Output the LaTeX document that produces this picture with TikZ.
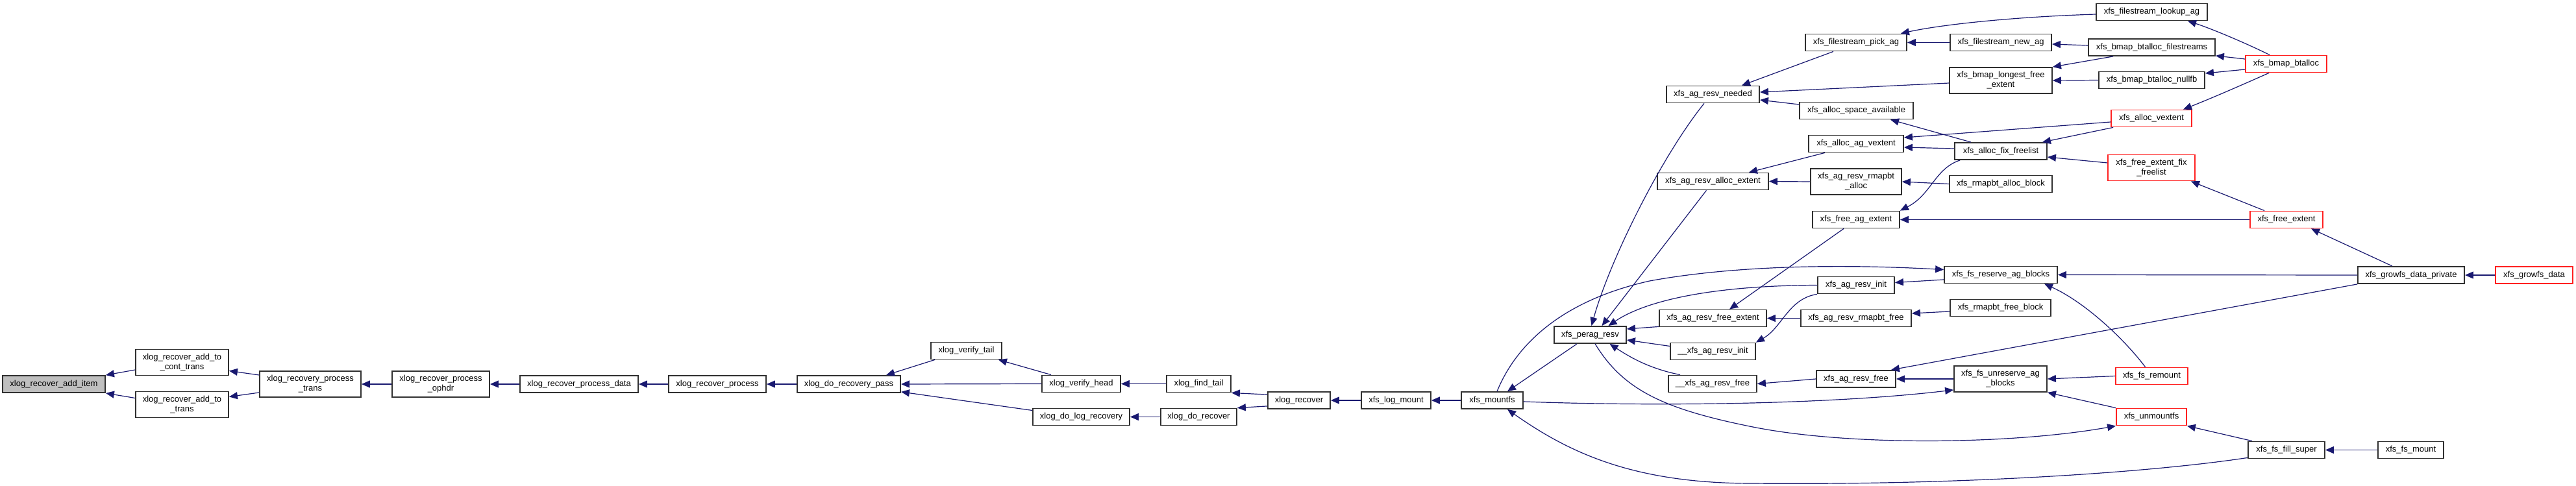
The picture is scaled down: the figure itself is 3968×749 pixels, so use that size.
\documentclass[tikz,border=0pt]{standalone}
\usepackage{fontspec}
\setmainfont{Liberation Sans}
\usetikzlibrary{arrows.meta}
\definecolor{edgeblue}{HTML}{191970}
\definecolor{rootgray}{HTML}{BFBFBF}
\definecolor{boxred}{HTML}{FF2020}
\definecolor{boxgray}{HTML}{303030}
\begin{document}
\begin{tikzpicture}[x=0.5pt,y=-0.5pt,
  box/.style={draw=boxgray, line width=0.9pt, fill=white, inner sep=0pt, align=center,
              font=\fontsize{6.5}{7.5}\selectfont, minimum height=13pt},
  redbox/.style={box, draw=boxred},
  rootbox/.style={box, fill=rootgray},
  wd/.style={minimum width=#1*0.5pt},
  tall/.style={minimum height=20pt},
  cl/.style={draw=edgeblue, line width=0.6pt, {Triangle[length=6.5pt,width=5.5pt]}-}
]
\useasboundingbox (0,0) rectangle (3968,749);

% nodes
\node[rootbox,wd=158] (n1) at (83,592) {xlog\_recover\_add\_item};
\node[box,wd=143,tall] (n2) at (280.5,558.5) {xlog\_recover\_add\_to\\\_cont\_trans};
\node[box,wd=143,tall] (n3) at (280.5,623.5) {xlog\_recover\_add\_to\\\_trans};
\node[box,wd=156,tall] (n4) at (478,592) {xlog\_recovery\_process\\\_trans};
\node[box,wd=150,tall] (n5) at (679,592) {xlog\_recover\_process\\\_ophdr};
\node[box,wd=182] (n6) at (892,592) {xlog\_recover\_process\_data};
\node[box,wd=150] (n7) at (1105,592) {xlog\_recover\_process};
\node[box,wd=159] (n8) at (1307.5,592) {xlog\_do\_recovery\_pass};
\node[box,wd=109] (n9) at (1488.5,540.5) {xlog\_verify\_tail};
\node[box,wd=121] (n10) at (1665.5,591.5) {xlog\_verify\_head};
\node[box,wd=99] (n11) at (1846.5,591.5) {xlog\_find\_tail};
\node[box,wd=149] (n12) at (1665.5,642.5) {xlog\_do\_log\_recovery};
\node[box,wd=117] (n13) at (1846.5,642.5) {xlog\_do\_recover};
\node[box,wd=96] (n14) at (2001,617) {xlog\_recover};
\node[box,wd=107] (n15) at (2150.5,617) {xfs\_log\_mount};
\node[box,wd=95] (n16) at (2298.5,617) {xfs\_mountfs};
\node[box,wd=111] (n17) at (2449.5,516) {xfs\_perag\_resv};
\node[box,wd=143] (n18) at (2638.5,145.5) {xfs\_ag\_resv\_needed};
\node[box,wd=171] (n19) at (2638.5,279.5) {xfs\_ag\_resv\_alloc\_extent};
\node[box,wd=165] (n20) at (2638.5,490.5) {xfs\_ag\_resv\_free\_extent};
\node[box,wd=131] (n21) at (2638.5,541.5) {\_\_xfs\_ag\_resv\_init};
\node[box,wd=136] (n22) at (2638,591.5) {\_\_xfs\_ag\_resv\_free};
\node[box,wd=156] (n23) at (2859,65.5) {xfs\_filestream\_pick\_ag};
\node[box,wd=175] (n24) at (2859.5,170.5) {xfs\_alloc\_space\_available};
\node[box,wd=146] (n25) at (2859,221.5) {xfs\_alloc\_ag\_vextent};
\node[box,wd=140,tall] (n26) at (2859,280) {xfs\_ag\_resv\_rmapbt\\\_alloc};
\node[box,wd=134] (n27) at (2859,338.5) {xfs\_free\_ag\_extent};
\node[box,wd=118] (n28) at (2859,439.5) {xfs\_ag\_resv\_init};
\node[box,wd=170] (n29) at (2859,490.5) {xfs\_ag\_resv\_rmapbt\_free};
\node[box,wd=122] (n30) at (2859,584) {xfs\_ag\_resv\_free};
\node[box,wd=156] (n31) at (3082,65.5) {xfs\_filestream\_new\_ag};
\node[box,wd=158,tall] (n32) at (3082,124) {xfs\_bmap\_longest\_free\\\_extent};
\node[box,wd=142] (n33) at (3082,233) {xfs\_alloc\_fix\_freelist};
\node[box,wd=158] (n34) at (3082,283.5) {xfs\_rmapbt\_alloc\_block};
\node[box,wd=174] (n35) at (3082,423.5) {xfs\_fs\_reserve\_ag\_blocks};
\node[box,wd=155] (n36) at (3081.5,474.5) {xfs\_rmapbt\_free\_block};
\node[box,wd=143,tall] (n37) at (3081.5,584) {xfs\_fs\_unreserve\_ag\\\_blocks};
\node[box,wd=171] (n38) at (3314.5,18.5) {xfs\_filestream\_lookup\_ag};
\node[box,wd=195] (n39) at (3314.5,73) {xfs\_bmap\_btalloc\_filestreams};
\node[box,wd=163] (n40) at (3314.5,123.5) {xfs\_bmap\_btalloc\_nullfb};
\node[redbox,wd=124] (n41) at (3314,182.5) {xfs\_alloc\_vextent};
\node[redbox,wd=134,tall] (n42) at (3314,258.5) {xfs\_free\_extent\_fix\\\_freelist};
\node[redbox,wd=111] (n43) at (3314.5,579.5) {xfs\_fs\_remount};
\node[redbox,wd=108] (n44) at (3314,642.5) {xfs\_unmountfs};
\node[redbox,wd=125] (n45) at (3521.5,98.5) {xfs\_bmap\_btalloc};
\node[redbox,wd=112] (n46) at (3522,338.5) {xfs\_free\_extent};
\node[box,wd=118] (n47) at (3522,693.5) {xfs\_fs\_fill\_super};
\node[box,wd=164] (n48) at (3714,424) {xfs\_growfs\_data\_private};
\node[box,wd=101] (n49) at (3713.5,693.5) {xfs\_fs\_mount};
\node[redbox,wd=119] (n50) at (3903.5,424) {xfs\_growfs\_data};

% edges (arrow tip at callee)
\draw[cl] (n1.north east) -- ([yshift=-5.75pt]n2.west);
\draw[cl] (n1.south east) -- ([yshift=5pt]n3.west);
\draw[cl] ([yshift=-6.5pt]n2.east) -- ([yshift=7pt]n4.west);
\draw[cl] ([yshift=6pt]n3.east) -- ([yshift=-6.5pt]n4.west);
\draw[cl] (n4.east) -- (n5.west);
\draw[cl] (n5.east) -- (n6.west);
\draw[cl] (n6.east) -- (n7.west);
\draw[cl] (n7.east) -- (n8.west);
\draw[cl] ([xshift=28.75pt]n8.north) -- ([xshift=3.5pt]n9.south west);
\draw[cl] (n8.east) -- (n10.west);
\draw[cl] ([yshift=1pt]n8.south east) -- ([yshift=5pt]n12.west);
\draw[cl] ([xshift=-3pt]n9.south east) -- ([xshift=7.5pt]n10.north west);
\draw[cl] (n10.east) -- (n11.west);
\draw[cl] (n11.south east) -- ([yshift=-2.5pt]n14.north west);
\draw[cl] (n12.east) -- (n13.west);
\draw[cl] (n13.north east) -- ([yshift=2.5pt]n14.south west);
\draw[cl] (n14.east) -- (n15.west);
\draw[cl] (n15.east) -- (n16.west);
\draw[cl] ([xshift=11.75pt]n16.north) -- ([xshift=18pt]n17.south west);
\draw[cl] ([xshift=11.75pt]n16.south) .. controls (2420,700) and (2520,745) .. (2700,745)
          .. controls (3000,748) and (3300,730) .. ([yshift=1pt]n47.south west);
\draw[cl] ([yshift=4pt]n35.west) .. controls (2800,405) and (2650,413) .. (2541,433)
          .. controls (2420,460) and (2340,520) .. ([xshift=3.75pt]n16.north);
\draw[cl] ([yshift=2pt]n37.south west) .. controls (2850,620) and (2600,628) .. ([yshift=-1pt]n16.east);
\draw[cl] ([xshift=1pt]n17.north) .. controls (2480,400) and (2560,240) .. ([xshift=-6.75pt]n18.south);
\draw[cl] ([xshift=9pt]n17.north) -- ([xshift=-5pt]n19.south);
\draw[cl] ([xshift=14pt]n17.north) .. controls (2540,460) and (2650,440) .. (n28.west);
\draw[cl] ([yshift=4.5pt]n17.east) -- ([yshift=0.5pt]n20.south west);
\draw[cl] ([yshift=-4pt]n17.east) -- ([yshift=4pt]n21.west);
\draw[cl] ([xshift=15pt]n17.south) .. controls (2510,550) and (2540,568) .. ([xshift=9.5pt]n22.north west);
\draw[cl] (n44.south west) .. controls (3100,685) and (2850,688) .. (2700,658)
          .. controls (2560,630) and (2500,600) .. ([xshift=3.75pt]n17.south);
\draw[cl] ([xshift=12.75pt]n20.north) -- ([xshift=-9.5pt]n27.south);
\draw[cl] (n20.east) -- (n29.west);
\draw[cl] (n21.north east) .. controls (2745,505) and (2755,460) .. (n28.south west);
\draw[cl] (n22.east) -- (n30.west);
\draw[cl] ([yshift=2pt]n28.east) -- ([yshift=-3.75pt]n35.west);
\draw[cl] ([yshift=3.75pt]n29.east) -- ([yshift=-2.75pt]n36.west);
\draw[cl] (n30.east) -- (n37.west);
\draw[cl] ([xshift=-4pt]n30.north east) -- (n48.south west);
\draw[cl] (n35.east) -- (n48.west);
\draw[cl] ([xshift=19pt]n46.south) -- ([xshift=-14.5pt]n48.north);
\draw[cl] ([xshift=33.5pt]n35.south) .. controls (3210,465) and (3270,520) .. ([xshift=-5pt]n43.north);
\draw[cl] (n37.east) -- (n43.west);
\draw[cl] (n37.south east) -- (n44.north west);
\draw[cl] (n44.south east) -- ([xshift=3.5pt]n47.north west);
\draw[cl] (n47.east) -- (n49.west);
\draw[cl] (n48.east) -- (n50.west);
\draw[cl] ([xshift=22.25pt]n18.north) -- ([xshift=-17.5pt]n23.south);
\draw[cl] ([yshift=1.75pt]n18.east) -- ([yshift=-2pt]n32.west);
\draw[cl] ([yshift=-4.25pt]n18.east) -- ([yshift=4.75pt]n24.west);
\draw[cl] ([xshift=26.25pt]n24.south) -- ([xshift=-23pt]n33.north);
\draw[cl] ([yshift=4.75pt]n25.east) -- ([yshift=-2.75pt]n41.west);
\draw[cl] ([yshift=-2.75pt]n25.east) -- ([yshift=2pt]n33.west);
\draw[cl] ([xshift=27.75pt]n19.north) -- ([xshift=-24pt]n25.south);
\draw[cl] (n19.east) -- (n26.west);
\draw[cl] (n26.east) -- (n34.west);
\draw[cl] (n27.north east) .. controls (2975,300) and (2980,260) .. ([xshift=4.5pt]n33.south west);
\draw[cl] (n27.east) -- (n46.west);
\draw[cl] ([xshift=-4pt]n33.north east) -- ([xshift=2pt]n41.south west);
\draw[cl] ([yshift=-4.5pt]n33.east) -- ([yshift=3.75pt]n42.west);
\draw[cl] ([xshift=-3.5pt]n42.south east) -- ([xshift=11.5pt]n46.north west);
\draw[cl] ([xshift=-5pt]n23.north east) .. controls (2990,38) and (3100,26) .. ([yshift=-1.75pt]n38.west);
\draw[cl] (n23.east) -- (n31.west);
\draw[cl] ([yshift=-1.25pt]n31.east) -- ([yshift=1.5pt]n39.west);
\draw[cl] (n32.north east) -- ([xshift=19.5pt]n39.south west);
\draw[cl] (n32.east) -- (n40.west);
\draw[cl] ([xshift=27.75pt]n38.south) .. controls (3400,42) and (3450,62) .. ([xshift=19pt]n45.north west);
\draw[cl] ([yshift=0.5pt]n39.south east) -- ([yshift=3.75pt]n45.west);
\draw[cl] ([yshift=5.25pt]n40.east) -- ([yshift=-4.25pt]n45.west);
\draw[cl] ([xshift=24.5pt]n41.north) .. controls (3410,150) and (3460,128) .. ([xshift=18.5pt]n45.south west);
\end{tikzpicture}
\end{document}
